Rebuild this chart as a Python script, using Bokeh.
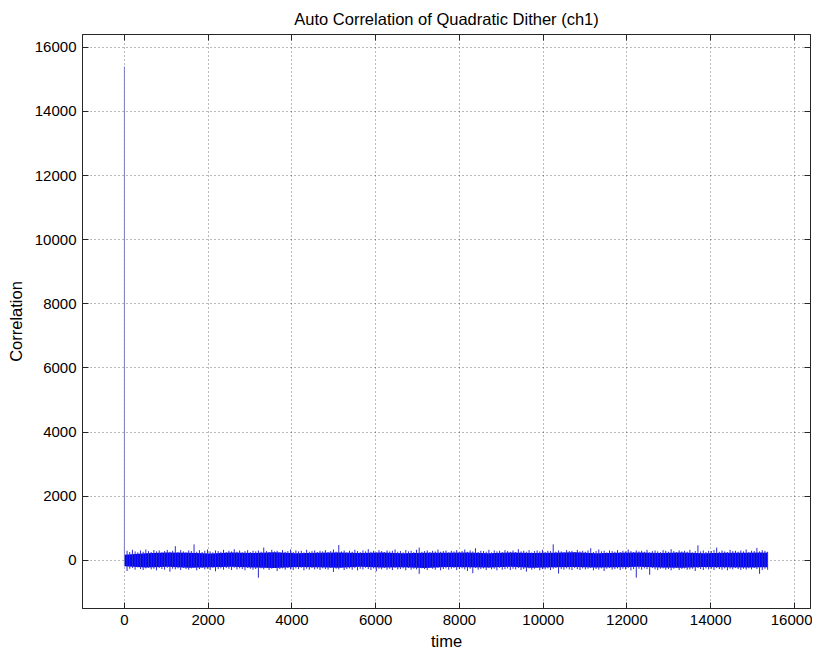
from bokeh.plotting import figure
from bokeh.models import FixedTicker, LinearAxis, Range1d
from bokeh.embed import file_html
from bokeh.resources import INLINE
import numpy as np

# ---- data ----
title_text = "Auto Correlation of Quadratic Dither (ch1)"
x_label = "time"
y_label = "Correlation"
x_ticks = [0, 2000, 4000, 6000, 8000, 10000, 12000, 14000, 16000]
y_ticks = [0, 2000, 4000, 6000, 8000, 10000, 12000, 14000, 16000]

# lag 0 peak of the auto-correlation
peak_top = [15400]
peak_bottom = [-150]

# per-bin (64 lags) maximum of the correlation, lags 64 .. 15360
bin_top = [
    300, 260, 330, 280, 250, 310, 270, 340, 290, 260, 320, 280,
    310, 250, 290, 330, 270, 300, 445, 260, 320, 280, 250, 310,
    290, 500, 270, 320, 260, 300, 340, 280, 250, 310, 290, 270,
    330, 260, 300, 280, 350, 270, 310, 250, 290, 320, 260, 300,
    280, 310, 270, 400, 290, 260, 330, 280, 300, 250, 320, 270,
    290, 340, 260, 310, 280, 300, 250, 330, 270, 290, 310, 260,
    300, 280, 320, 260, 290, 340, 270, 480, 280, 310, 250, 300,
    270, 330, 290, 260, 310, 280, 350, 270, 300, 250, 320, 290,
    260, 310, 280, 300, 340, 270, 290, 250, 320, 280, 300, 260,
    330, 400, 270, 290, 310, 260, 300, 280, 340, 270, 290, 310,
    250, 300, 280, 320, 260, 290, 340, 270, 310, 280, 380, 260,
    300, 290, 270, 330, 250, 310, 280, 300, 260, 320, 290, 270,
    310, 260, 350, 280, 300, 270, 320, 250, 290, 310, 280, 330,
    260, 300, 290, 500, 270, 310, 280, 250, 320, 290, 300, 260,
    330, 280, 300, 270, 310, 380, 260, 290, 340, 280, 300, 250,
    310, 290, 270, 320, 260, 300, 280, 340, 290, 260, 310, 280,
    300, 270, 330, 250, 290, 310, 280, 260, 320, 300, 270, 350,
    290, 260, 310, 280, 300, 270, 330, 250, 290, 470, 280, 310,
    260, 300, 290, 320, 400, 270, 310, 280, 260, 330, 290, 300,
    270, 310, 280, 340, 260, 300, 290, 390, 280, 320, 300, 270,
]

# per-bin (64 lags) minimum of the correlation, lags 64 .. 15360
bin_bottom = [
    -330, -260, -240, -290, -220, -270, -300, -250, -230, -280, -260, -310,
    -240, -270, -290, -230, -350, -260, -280, -250, -300, -240, -270, -290,
    -250, -230, -310, -270, -240, -280, -260, -300, -230, -340, -270, -250,
    -290, -240, -260, -300, -230, -280, -250, -270, -310, -240, -260, -290,
    -270, -540, -250, -280, -240, -300, -260, -230, -330, -270, -250, -290,
    -240, -280, -300, -250, -270, -230, -310, -260, -290, -240, -280, -260,
    -300, -250, -270, -290, -240, -360, -260, -280, -230, -300, -270, -250,
    -290, -240, -310, -260, -280, -230, -270, -300, -250, -340, -260, -280,
    -240, -290, -260, -300, -230, -280, -270, -250, -310, -240, -290, -260,
    -280, -420, -250, -270, -300, -240, -260, -290, -230, -310, -270, -250,
    -290, -260, -240, -300, -270, -250, -280, -330, -260, -400, -240, -290,
    -270, -250, -300, -240, -280, -260, -310, -230, -290, -270, -250, -300,
    -260, -280, -240, -300, -270, -350, -250, -290, -260, -240, -310, -270,
    -280, -250, -300, -260, -240, -410, -270, -290, -250, -280, -300, -240,
    -270, -300, -250, -280, -260, -240, -310, -270, -290, -250, -330, -260,
    -240, -290, -270, -250, -300, -260, -280, -240, -310, -270, -540, -260,
    -290, -250, -270, -450, -240, -280, -300, -260, -250, -290, -270, -310,
    -260, -240, -300, -270, -250, -290, -280, -260, -330, -240, -270, -300,
    -250, -280, -260, -300, -240, -270, -290, -250, -310, -260, -280, -240,
    -270, -300, -260, -290, -250, -280, -240, -270, -420, -300, -260, -290,
]

# dense core of the noise band (upper / lower edge), lags 0 .. 15360
core_upper = [180, 225, 250, 235, 215, 245, 230, 255, 220, 240, 250, 230, 245, 225, 240, 235,
              250, 220, 245, 230, 240, 255, 225, 235, 245, 230, 250, 220, 240, 235, 245]
core_lower = [-180, -225, -200, -230, -215, -195, -220, -235, -205, -215, -230, -200, -220, -210, -235, -205,
              -215, -225, -200, -230, -215, -205, -225, -210, -200, -220, -230, -205, -215, -225, -210]

seg_top = peak_top + bin_top
seg_bottom = peak_bottom + bin_bottom
lag = np.arange(len(seg_top)) * 64
core_lag = np.linspace(lag[0], lag[-1], len(core_upper))

FONT = "Liberation Sans"
BLUE = "#0000ff"
SPIKE = "#2c2cc8"
PEAK = "#7c7cc4"
seg_colors = [PEAK] + [SPIKE] * len(bin_top)

p = figure(width=812, height=652, output_backend="svg", toolbar_location=None,
           x_range=Range1d(-1000, 16384), y_range=Range1d(-1500, 16400),
           min_border_left=82, min_border_right=2, min_border_top=34,
           min_border_bottom=44)

p.varea(x=core_lag, y1=core_lower, y2=core_upper, fill_color=BLUE, fill_alpha=1)
p.segment(x0=lag, y0=seg_bottom, x1=lag, y1=seg_top, line_color=seg_colors, line_width=1)

p.title.text = title_text
p.title.align = "center"
p.title.vertical_align = "top"
p.title.text_font = FONT
p.title.text_font_size = "16.5px"
p.title.text_font_style = "normal"
p.title.text_color = "#000000"

for ax, ticks, lab in ((p.xaxis[0], x_ticks, x_label), (p.yaxis[0], y_ticks, y_label)):
    ax.ticker = FixedTicker(ticks=ticks)
    ax.axis_label = lab
    ax.axis_label_text_font = FONT
    ax.axis_label_text_font_size = "16.5px"
    ax.axis_label_text_font_style = "normal"
    ax.axis_label_text_color = "#000000"
    ax.major_label_text_font = FONT
    ax.major_label_text_font_size = "15px"
    ax.major_label_text_color = "#000000"
    ax.major_tick_in = 6
    ax.major_tick_out = 0
    ax.minor_tick_in = 0
    ax.minor_tick_out = 0
    ax.axis_line_color = "#262626"
    ax.major_tick_line_color = "#262626"
    ax.major_label_standoff = 6
p.xaxis[0].axis_label_standoff = 4
p.yaxis[0].axis_label_standoff = 7

for side, ticks in (("right", y_ticks), ("above", x_ticks)):
    ax = LinearAxis(ticker=FixedTicker(ticks=ticks))
    ax.major_label_text_font_size = "0px"
    ax.major_label_text_alpha = 0
    ax.major_label_standoff = 0
    ax.major_tick_in = 6
    ax.major_tick_out = 0
    ax.minor_tick_in = 0
    ax.minor_tick_out = 0
    ax.axis_line_color = "#262626"
    ax.major_tick_line_color = "#262626"
    p.add_layout(ax, side)

for g, ticks in ((p.xgrid[0], x_ticks), (p.ygrid[0], y_ticks)):
    g.ticker = FixedTicker(ticks=ticks)
    g.grid_line_color = "#000000"
    g.grid_line_alpha = 0.55
    g.grid_line_dash = "1 3"
    g.grid_line_width = 1

p.outline_line_color = "#262626"
p.outline_line_width = 1
p.background_fill_color = "#ffffff"
p.border_fill_color = "#ffffff"

open("out.html", "w").write(file_html(p, INLINE))
